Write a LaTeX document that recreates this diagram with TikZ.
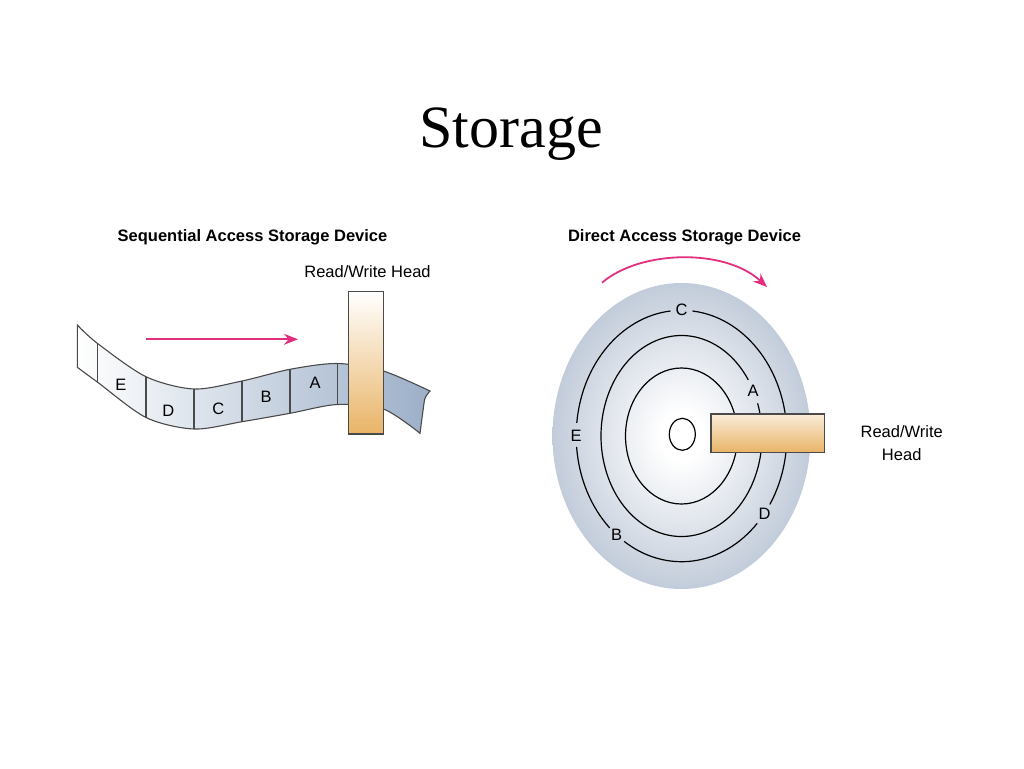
\documentclass[tikz,border=0pt]{standalone}
\usepackage{fontspec}
\setmainfont{Liberation Serif}
\setsansfont{Liberation Sans}
\usetikzlibrary{arrows.meta,positioning}
\definecolor{tapeblue}{HTML}{9CAFC8}
\definecolor{diskblue}{HTML}{A5B3C8}
\definecolor{headorange}{HTML}{E9B467}
\definecolor{arrowpink}{HTML}{E2307F}
\definecolor{edgegray}{HTML}{4A4A4A}
\pgfdeclareradialshading{diskshade}{\pgfpoint{0bp}{0bp}}{color(0bp)=(white); color(4bp)=(white); color(35bp)=(diskblue); color(50bp)=(diskblue)}
\tikzset{heading/.style={font=\sffamily\bfseries\fontsize{16.5}{20}\selectfont, anchor=base, inner sep=0pt},
	caption/.style={font=\sffamily\fontsize{16.5}{23}\selectfont, inner sep=0pt, align=center},
	trackletter/.style={font=\sffamily\fontsize{16.5}{20}\selectfont, inner sep=0pt},
	track/.style={draw=black, line width=1.2pt},
	tapeline/.style={draw=edgegray, line width=1.1pt},
	headbox/.style={draw=edgegray, line width=1.2pt, rectangle, inner sep=0pt, top color=white, bottom color=headorange},
	motion/.style={draw=arrowpink, line width=1.8pt, -{Stealth[length=14pt,width=11pt]}}}

\begin{document}
\begin{tikzpicture}[x=1pt,y=-1pt]
	\useasboundingbox (0,0) rectangle (1024,768);
	\node[font=\fontsize{60}{62}\selectfont, anchor=base, inner sep=0pt] (title) at (511,147.5) {Storage};

	% sequential tape
	\node[heading] (seqtitle) at (252.5,241) {Sequential Access Storage Device};
	\node[caption, anchor=base] (seqcap) at (367.5,277) {Read/Write Head};
	\foreach \n/\x/\t/\b in {1/77.3/325/367.3, 2/97.3/343.3/382, 3/146/376.7/417.5, 4/194/389/429,
		5/242/381/421.7, 6/290/369.3/413.3, 7/337.3/363.5/404.5, 8/383.3/371/409}
		{\coordinate (t\n) at (\x,\t); \coordinate (b\n) at (\x,\b);}
	\shade[tapeline, left color=white, right color=tapeblue]
		plot[smooth] coordinates {(t1) (t2) (t3) (t4) (t5) (t6) (t7) (t8) (430,391)}
		-- plot[smooth] coordinates {(430,391) (425,398.3) (422.7,413) (420,433.3)}
		-- plot[smooth] coordinates {(420,433.3) (b8) (b7) (b6) (b5) (b4) (b3) (b2) (b1)}
		-- cycle;
	\foreach \n in {2,...,7}
		\draw[tapeline] (t\n) -- (b\n);
	\node[trackletter] (tapeE) at (121,385) {E};
	\node[trackletter] (tapeD) at (168.3,410.7) {D};
	\node[trackletter] (tapeC) at (218.3,409.3) {C};
	\node[trackletter] (tapeB) at (266,396.7) {B};
	\node[trackletter] (tapeA) at (315,382.7) {A};
	\node[headbox, minimum width=35pt, minimum height=142.3pt] (seqhead) at (365.8,362.9) {};
	\coordinate (seqstart) at (146,339.3);
	\coordinate (seqend) at (298,339.3);
	\draw[motion] (seqstart) -- (seqend);

	% direct disk
	\node[heading] (dirtitle) at (684.5,241) {Direct Access Storage Device};
	\coordinate (hub) at (681.5,436);
	\shade[shading=diskshade] (hub) ellipse [x radius=129, y radius=153];
	\draw[track] (hub) ellipse [x radius=56, y radius=68];
	\draw[track] (hub) ++(-19:80.5 and 100.5) arc[start angle=-19, end angle=326, x radius=80.5, y radius=100.5];
	\draw[track] (hub) ++(44:105.3 and 125.7) arc[start angle=44, end angle=123, x radius=105.3, y radius=125.7];
	\draw[track] (hub) ++(133:105.3 and 125.7) arc[start angle=133, end angle=175, x radius=105.3, y radius=125.7];
	\draw[track] (hub) ++(186:105.3 and 125.7) arc[start angle=186, end angle=264, x radius=105.3, y radius=125.7];
	\draw[track] (hub) ++(276:105.3 and 125.7) arc[start angle=276, end angle=393, x radius=105.3, y radius=125.7];
	\path (hub) ++(-90:105.3 and 125.7) node[trackletter] (diskC) {C};
	\path (hub) ++(180:105.3 and 125.7) node[trackletter] (diskE) {E};
	\path (hub) ++(128:105.3 and 125.7) node[trackletter] (diskB) {B};
	\path (hub) ++(38:105.3 and 125.7) node[trackletter] (diskD) {D};
	\path (hub) ++(-27:80.5 and 100.5) node[trackletter] (diskA) {A};
	\draw[track, fill=white] (682.3,434.3) ellipse [x radius=13, y radius=16];
	\node[headbox, top color=headorange!25!white, minimum width=113.3pt, minimum height=38.3pt] (dirhead) at (767.7,433.2) {};
	\node[caption] (dircap) at (901.7,443) {Read/Write\\Head};
	\coordinate (dirstart) at (602,282.7);
	\coordinate (dirend) at (767,287);
	\draw[motion] (dirstart) .. controls (640,250) and (725,248) .. (dirend);
\end{tikzpicture}
\end{document}
